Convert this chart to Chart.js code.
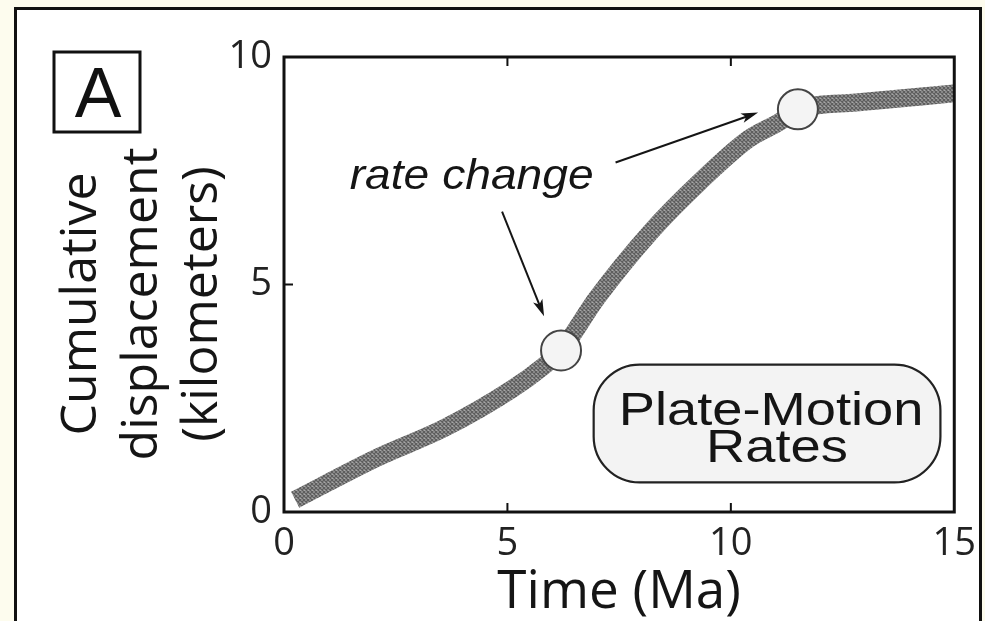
<!DOCTYPE html>
<html>
<head>
<meta charset="utf-8">
<script src="https://cdn.jsdelivr.net/npm/chart.js@4.4.1/dist/chart.umd.min.js"></script>
<style>
  html, body { margin: 0; padding: 0; }
  body { width: 985px; height: 621px; background: #fdfcee; position: relative; overflow: hidden; }
  #frame { position: absolute; left: 14px; top: 7px; width: 962px; height: 640px; border: 3px solid #111; background: #fff; }
  #wrap { position: absolute; left: 0; top: 0; width: 985px; height: 621px; }
</style>
</head>
<body>
<div id="frame"></div>
<div id="wrap"><canvas id="rateChart" width="985" height="621"></canvas></div>
<script>
// time (Ma) and cumulative displacement (km)
let timeMa = [0.25, 2.1, 3.6, 5.1, 5.8, 6.2, 7.0, 8.2, 9.3, 10.4, 11.1, 11.5, 12.8, 15];
let displacementKm = [0.27, 1.2, 1.85, 2.7, 3.2, 3.55, 4.7, 6.15, 7.25, 8.2, 8.58, 8.85, 9.0, 9.2];

// the two "rate change" points
let changeTime = [6.2, 11.5];
let changeDisp = [3.55, 8.85];

let xTicks = [0, 5, 10, 15];
let yTicks = [0, 5, 10];

let yTitle = ["Cumulative", "displacement", "(kilometers)"];
let xTitle = "Time (Ma)";

function hatch(base, ink, size) {
    let c = document.createElement("canvas");
    c.width = size; c.height = size;
    let g = c.getContext("2d");
    g.fillStyle = base;
    g.fillRect(0, 0, size, size);
    g.strokeStyle = ink;
    g.lineWidth = 1.3;
    g.beginPath();
    g.moveTo(0, size); g.lineTo(size, 0);
    g.moveTo(0, 0); g.lineTo(size, size);
    g.stroke();
    return g.createPattern(c, "repeat");
}

function arrow(ctx, x1, y1, x2, y2) {
    let a = Math.atan2(y2 - y1, x2 - x1);
    let len = 17, w = 5;
    ctx.beginPath();
    ctx.moveTo(x1, y1);
    ctx.lineTo(x2 - Math.cos(a) * len * 0.7, y2 - Math.sin(a) * len * 0.7);
    ctx.stroke();
    ctx.beginPath();
    ctx.moveTo(x2, y2);
    ctx.lineTo(x2 - Math.cos(a) * len - Math.sin(a) * w, y2 - Math.sin(a) * len + Math.cos(a) * w);
    ctx.lineTo(x2 - Math.cos(a) * len * 0.75, y2 - Math.sin(a) * len * 0.75);
    ctx.lineTo(x2 - Math.cos(a) * len + Math.sin(a) * w, y2 - Math.sin(a) * len - Math.cos(a) * w);
    ctx.closePath();
    ctx.fill();
}

let extras = {
    id: "extras",
    afterDatasetsDraw(chart) {
        let ctx = chart.ctx;
        let xs = chart.scales.x, ys = chart.scales.y;
        let X = v => xs.getPixelForValue(v);
        let Y = v => ys.getPixelForValue(v);
        let area = chart.chartArea;
        ctx.save();

        // plot frame
        ctx.strokeStyle = "#111";
        ctx.lineWidth = 3;
        ctx.strokeRect(area.left, area.top, area.right - area.left, area.bottom - area.top);

        // inward tick marks
        ctx.lineWidth = 2;
        ctx.beginPath();
        [5, 10].forEach(v => {
            ctx.moveTo(X(v), area.bottom); ctx.lineTo(X(v), area.bottom - 9);
            ctx.moveTo(X(v), area.top); ctx.lineTo(X(v), area.top + 9);
        });
        ctx.moveTo(area.left, Y(5)); ctx.lineTo(area.left + 9, Y(5));
        ctx.stroke();

        // y axis title, three rotated lines
        ctx.save();
        ctx.fillStyle = "#151515";
        ctx.font = "50px 'Open Sans', sans-serif";
        ctx.textAlign = "center";
        ctx.textBaseline = "middle";
        [82, 143, 203].forEach((x, i) => {
            ctx.save();
            ctx.translate(x, 304);
            ctx.rotate(-Math.PI / 2);
            ctx.fillText(yTitle[i], 0, 0);
            ctx.restore();
        });
        ctx.restore();

        // panel letter
        ctx.lineWidth = 3;
        ctx.strokeRect(54, 52, 86, 80);
        ctx.fillStyle = "#111";
        ctx.font = "70px 'Liberation Sans', Arial, sans-serif";
        ctx.textAlign = "center";
        ctx.textBaseline = "alphabetic";
        ctx.fillText("A", 98, 117);

        // label box
        let bx1 = X(6.93), bx2 = X(14.69), by1 = Y(3.24), by2 = Y(0.65);
        ctx.beginPath();
        ctx.roundRect(bx1, by1, bx2 - bx1, by2 - by1, 46);
        ctx.fillStyle = "#f3f3f3";
        ctx.fill();
        ctx.lineWidth = 2.2;
        ctx.strokeStyle = "#222";
        ctx.stroke();

        ctx.fillStyle = "#151515";
        ctx.save();
        ctx.translate(X(10.9), 0);
        ctx.scale(1.18, 1);
        ctx.font = "46px 'Liberation Sans', Arial, sans-serif";
        ctx.textAlign = "center";
        ctx.fillText("Plate-Motion", 0, Y(1.92));
        ctx.fillText("Rates", 5, Y(1.09));
        ctx.restore();

        // annotation
        ctx.save();
        ctx.translate(X(1.47), 0);
        ctx.scale(1.1, 1);
        ctx.font = "italic 42px 'Liberation Sans', Arial, sans-serif";
        ctx.textAlign = "left";
        ctx.fillText("rate change", 0, Y(7.09));
        ctx.restore();

        ctx.strokeStyle = "#151515";
        ctx.fillStyle = "#151515";
        ctx.lineWidth = 2;
        arrow(ctx, X(4.88), Y(6.60), X(5.82), Y(4.30));
        arrow(ctx, X(7.42), Y(7.68), X(10.61), Y(8.78));

        ctx.restore();
    }
};

let ctx = document.getElementById("rateChart").getContext("2d");
let lineFill = hatch("#a8a8a8", "#5e5e5e", 4);

new Chart(ctx, {
    type: "line",
    data: {
        datasets: [
            {
                label: "rate change",
                data: changeTime.map((t, i) => ({ x: t, y: changeDisp[i] })),
                showLine: false,
                pointRadius: 20,
                pointHoverRadius: 20,
                pointBorderWidth: 2,
                pointBorderColor: "#444",
                pointBackgroundColor: "#f4f4f4"
            },
            {
                label: "displacement",
                data: timeMa.map((t, i) => ({ x: t, y: displacementKm[i] })),
                borderColor: lineFill,
                borderWidth: 18,
                borderCapStyle: "butt",
                pointRadius: 0,
                cubicInterpolationMode: "monotone",
                fill: false,
                clip: 0
            }
        ]
    },
    options: {
        responsive: false,
        animation: false,
        layout: { padding: { left: 0, top: 57, right: 28, bottom: 0 } },
        plugins: {
            legend: { display: false },
            tooltip: { enabled: false }
        },
        scales: {
            x: {
                type: "linear",
                min: 0,
                max: 15,
                afterBuildTicks: s => { s.ticks = xTicks.map(v => ({ value: v })); },
                afterFit: s => { s.height = 109; },
                grid: { display: false, drawTicks: false },
                border: { display: false },
                ticks: {
                    padding: 9,
                    color: "#222",
                    font: { family: "'Open Sans', sans-serif", size: 38 },
                    maxRotation: 0
                },
                title: {
                    display: true,
                    text: xTitle,
                    color: "#151515",
                    font: { family: "'Open Sans', sans-serif", size: 53, lineHeight: 1.2 },
                    padding: { top: 0, bottom: -4 }
                }
            },
            y: {
                type: "linear",
                min: 0,
                max: 10,
                afterBuildTicks: s => { s.ticks = yTicks.map(v => ({ value: v })); },
                afterFit: s => { s.width = 284; },
                grid: { display: false, drawTicks: false },
                border: { display: false },
                ticks: {
                    padding: 12,
                    color: "#222",
                    font: { family: "'Open Sans', sans-serif", size: 38 }
                },
                title: { display: false }
            }
        }
    },
    plugins: [extras]
});
</script>
</body>
</html>
